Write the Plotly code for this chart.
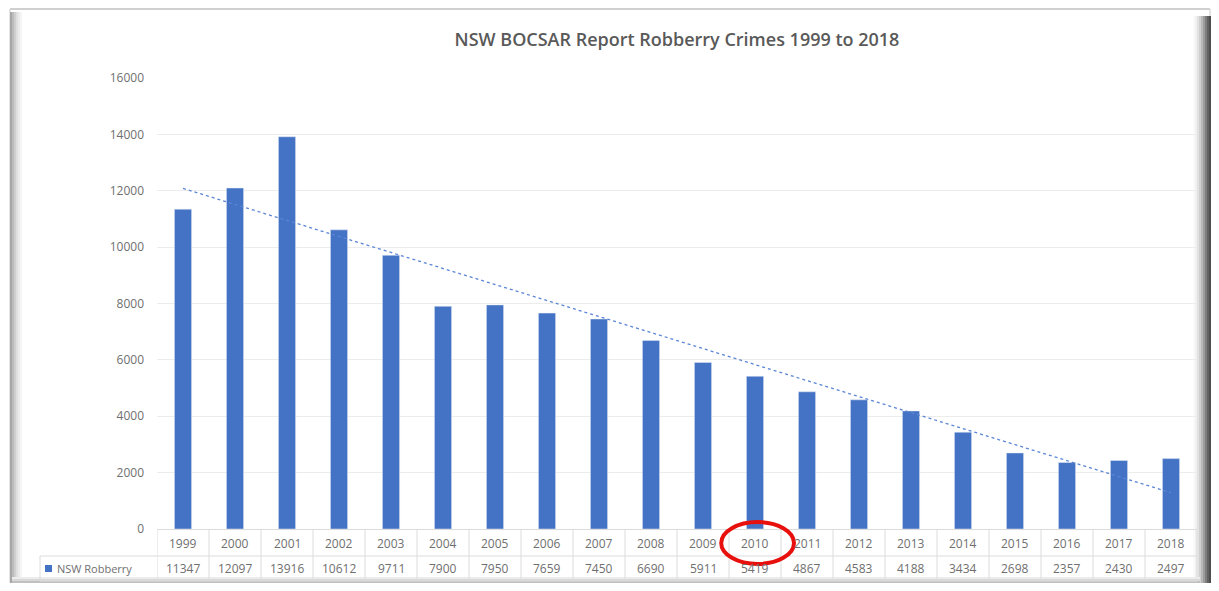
import numpy as np
import plotly.graph_objects as go

years = [1999, 2000, 2001, 2002, 2003, 2004, 2005, 2006, 2007, 2008,
         2009, 2010, 2011, 2012, 2013, 2014, 2015, 2016, 2017, 2018]
robbery = [11347, 12097, 13916, 10612, 9711, 7900, 7950, 7659, 7450, 6690,
           5911, 5419, 4867, 4583, 4188, 3434, 2698, 2357, 2430, 2497]
series_name = "NSW Robberry"
title_text = "NSW BOCSAR Report Robberry Crimes 1999 to 2018"
y_ticks = [0, 2000, 4000, 6000, 8000, 10000, 12000, 14000, 16000]
highlight_year = 2010

OFF = 8  # default page body margin
W, H = 1219 - 2 * OFF, 591 - 2 * OFF
ML, MT = 157 - OFF, 78 - OFF
MR = W - (1197 - OFF)
MB = H - (529 - OFF)
PW, PH = W - ML - MR, H - MT - MB

def px(x):
    return (x - OFF - ML) / PW

def py(y):
    return (H - MB - (y - OFF)) / PH

BLUE = "#4472C4"
TXT = "#6f6f6f"
GRID = "#dcdcdc"
FONT = "Open Sans"

# linear trendline
coef = np.polyfit(years, robbery, 1)
trend = np.polyval(coef, years)

fig = go.Figure()
fig.add_trace(go.Bar(x=years, y=robbery, name=series_name, marker_color=BLUE,
                     width=0.33, showlegend=False))
fig.add_trace(go.Scatter(x=years, y=trend, mode="lines", showlegend=False,
                         line=dict(color="#5b85d6", width=1.3, dash="dot")))

shapes = []
# frame
shapes.append(dict(type="rect", xref="paper", yref="paper", x0=px(10), x1=px(1210),
                   y0=py(582.5), y1=py(9), line=dict(color="#c8c8c8", width=1),
                   fillcolor="rgba(0,0,0,0)", layer="below"))
rcols = ["#fafafa", "#f0f0f0", "#e2e2e2", "#cfcfcf", "#b8b8b8", "#9c9c9c", "#7e7e7e", "#626262", "#4e4e4e"]
for i, c in enumerate(rcols):
    shapes.append(dict(type="rect", xref="paper", yref="paper",
                       x0=px(1193 + i * 2), x1=px(1195 + i * 2), y0=py(583), y1=py(16),
                       line=dict(width=0), fillcolor=c, layer="below"))
lcols = ["#a8a8a8", "#bcbcbc", "#d0d0d0", "#e0e0e0", "#ececec", "#f5f5f5"]
for i, c in enumerate(lcols):
    shapes.append(dict(type="rect", xref="paper", yref="paper",
                       x0=px(10 + i * 2), x1=px(12 + i * 2), y0=py(583), y1=py(12),
                       line=dict(width=0), fillcolor=c, layer="below"))
bcols = ["#ececec", "#d8d8d8", "#c0c0c0"]
for i, c in enumerate(bcols):
    shapes.append(dict(type="rect", xref="paper", yref="paper",
                       x0=px(12), x1=px(1200), y0=py(577 + i * 2 + 2), y1=py(577 + i * 2),
                       line=dict(width=0), fillcolor=c, layer="below"))
shapes.append(dict(type="line", xref="paper", yref="paper", x0=px(10), x1=px(1210),
                   y0=py(9), y1=py(9), line=dict(color="#d0d0d0", width=2)))

# data table lines
row_top, row_mid, row_bot = 530, 556, 581
x_lo = years[0] - 0.5
x_hi = years[-1] + 0.5
for yy in (row_mid, row_bot):
    shapes.append(dict(type="line", xref="paper", yref="paper", x0=px(40), x1=1,
                       y0=py(yy), y1=py(yy), line=dict(color=GRID, width=1)))
shapes.append(dict(type="line", xref="paper", yref="paper", x0=px(40), x1=px(40),
                   y0=py(row_mid), y1=py(row_bot), line=dict(color=GRID, width=1)))
for i in range(len(years) + 1):
    xv = x_lo + i
    shapes.append(dict(type="line", xref="x", yref="paper", x0=xv, x1=xv,
                       y0=py(row_top), y1=py(row_bot), line=dict(color=GRID, width=1)))
shapes.append(dict(type="rect", xref="paper", yref="paper", x0=px(45), x1=px(52),
                   y0=py(572), y1=py(565), line=dict(width=0), fillcolor=BLUE))

annotations = []
for yr, v in zip(years, robbery):
    annotations.append(dict(x=yr, xref="x", y=py((row_top + row_mid) / 2), yref="paper",
                            text=str(yr), showarrow=False, yanchor="middle",
                            font=dict(family=FONT, size=12, color=TXT)))
    annotations.append(dict(x=yr, xref="x", y=py((row_mid + row_bot) / 2), yref="paper",
                            text=str(v), showarrow=False, yanchor="middle",
                            font=dict(family=FONT, size=12, color=TXT)))
annotations.append(dict(x=px(55), xref="paper", y=py((row_mid + row_bot) / 2), yref="paper",
                        text=series_name, showarrow=False, xanchor="left", yanchor="middle",
                        font=dict(family=FONT, size=11, color=TXT)))
# red circle highlight around highlighted year label
shapes.append(dict(type="circle", xref="x", yref="paper",
                   x0=highlight_year - 0.65, x1=highlight_year + 0.75,
                   y0=py(564), y1=py(522), line=dict(color="#e8100c", width=4)))

fig.update_layout(
    width=W, height=H,
    margin=dict(l=ML, r=MR, t=MT, b=MB),
    paper_bgcolor="white", plot_bgcolor="white",
    title=dict(text=title_text, x=0.5, xref="paper", y=1 - (40 - OFF) / H, yanchor="middle",
               font=dict(family=FONT, size=18, color="#595959", weight=600)),
    xaxis=dict(range=[x_lo, x_hi], showticklabels=False, showgrid=False, ticks="",
               showline=True, linecolor=GRID, zeroline=False),
    yaxis=dict(range=[0, 16000], tickvals=y_ticks, tickformat="d", showgrid=True,
               gridcolor="#ececec", zeroline=False, showline=False, ticks="",
               ticklabelstandoff=12, tickfont=dict(family=FONT, size=12, color=TXT)),
    shapes=shapes, annotations=annotations,
)

fig.write_html("out.html")
